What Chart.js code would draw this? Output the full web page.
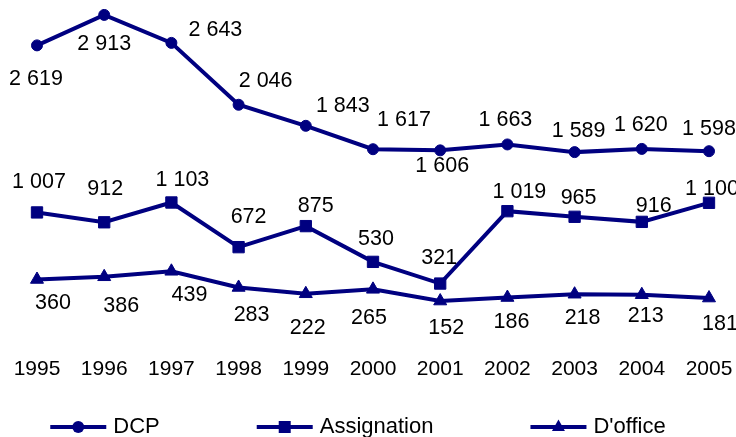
<!DOCTYPE html>
<html>
<head>
<meta charset="utf-8">
<script src="https://cdn.jsdelivr.net/npm/chart.js@4"></script>
<style>
  body { margin: 0; background: #fff; }
  #wrap { width: 736px; height: 437px; }
</style>
</head>
<body>
<div id="wrap"><canvas id="chart" width="736" height="437"></canvas></div>
<script>
// Data
const years = ['1995', '1996', '1997', '1998', '1999', '2000', '2001', '2002', '2003', '2004', '2005'];
const dcp = [2619, 2913, 2643, 2046, 1843, 1617, 1606, 1663, 1589, 1620, 1598];
const assignation = [1007, 912, 1103, 672, 875, 530, 321, 1019, 965, 916, 1100];
const dOffice = [360, 386, 439, 283, 222, 265, 152, 186, 218, 213, 181];

// Where each value label sits relative to its point (dx, dy in px)
const dcpLabelPos = [[-1, 34], [0, 29], [44, -13], [27, -24], [37, -20], [31, -29], [2, 16], [-2, -24], [4, -21], [-1, -24], [0, -22]];
const assignLabelPos = [[2, -30], [1, -33], [11, -22], [10, -30], [10, -20], [3, -23], [-1, -25], [12, -19], [4, -19], [12, -16], [3, -14]];
const officeLabelPos = [[16, 24], [17, 29], [18, 24], [13, 28], [2, 34], [-4, 29], [6, 27], [4, 25], [8, 24], [4, 21], [11, 26]];

const NAVY = '#000080';
const FONT = '"Liberation Sans", Arial, sans-serif';

// Format numbers with a space as thousands separator, like "2 619"
function fmt(v) {
    return String(v).replace(/\B(?=(\d{3})+(?!\d))/g, ' ');
}

// Value labels next to every point
const valueLabels = {
    id: 'valueLabels',
    afterDatasetsDraw(chart) {
        const ctx = chart.ctx;
        ctx.save();
        ctx.font = '21.5px ' + FONT;
        ctx.fillStyle = '#000';
        ctx.textAlign = 'center';
        ctx.textBaseline = 'middle';
        chart.data.datasets.forEach((ds, di) => {
            const meta = chart.getDatasetMeta(di);
            meta.data.forEach((pt, i) => {
                const off = ds.labelPos[i];
                ctx.fillText(fmt(ds.data[i]), pt.x + off[0], pt.y + off[1]);
            });
        });
        ctx.restore();
    }
};

// Draw one marker shape
function marker(ctx, style, x, y) {
    ctx.beginPath();
    if (style === 'circle') {
        ctx.arc(x, y, 6, 0, Math.PI * 2);
    } else if (style === 'rect') {
        ctx.rect(x - 6, y - 6, 12, 12);
    } else {
        ctx.moveTo(x, y - 7.5);
        ctx.lineTo(x + 6.5, y + 4);
        ctx.lineTo(x - 6.5, y + 4);
        ctx.closePath();
    }
    ctx.fill();
}

// Legend at the bottom: line + marker + text
const lineLegend = {
    id: 'lineLegend',
    afterDraw(chart) {
        const ctx = chart.ctx;
        const lineLen = 56, textGap = 7, itemGap = 97, y = 427;
        ctx.save();
        ctx.font = '22px ' + FONT;
        const items = chart.data.datasets.map(ds => ({
            ds, w: lineLen + textGap + ctx.measureText(ds.label).width
        }));
        const total = items.reduce((s, it) => s + it.w, 0) + itemGap * (items.length - 1);
        let x = 358 - total / 2;
        items.forEach(it => {
            ctx.strokeStyle = NAVY;
            ctx.fillStyle = NAVY;
            ctx.lineWidth = 4;
            ctx.beginPath();
            ctx.moveTo(x, y);
            ctx.lineTo(x + lineLen, y);
            ctx.stroke();
            marker(ctx, it.ds.pointStyle, x + lineLen / 2, y);
            ctx.fillStyle = '#000';
            ctx.textAlign = 'left';
            ctx.textBaseline = 'middle';
            ctx.fillText(it.ds.label, x + lineLen + textGap, y);
            x += it.w + itemGap;
        });
        ctx.restore();
    }
};

function series(label, data, style, radius, labelPos) {
    return {
        label: label,
        data: data,
        labelPos: labelPos,
        borderColor: NAVY,
        backgroundColor: NAVY,
        borderWidth: 4,
        pointStyle: style,
        pointRadius: radius,
        pointBorderWidth: 1,
        pointBackgroundColor: NAVY,
        pointBorderColor: NAVY,
        tension: 0
    };
}

const ctx = document.getElementById('chart').getContext('2d');
const chart = new Chart(ctx, {
    type: 'line',
    data: {
        labels: years,
        datasets: [
            series('DCP', dcp, 'circle', 5.5, dcpLabelPos),
            series('Assignation', assignation, 'rect', 8, assignLabelPos),
            series("D'office", dOffice, 'triangle', 7.5, officeLabelPos)
        ]
    },
    options: {
        responsive: false,
        animation: false,
        layout: { padding: { top: 2, left: 37, right: 27, bottom: 15 } },
        scales: {
            x: {
                grid: { display: false, drawTicks: false },
                border: { display: false },
                afterFit(scale) {
                    // keep the points at the layout padding edges
                    scale.paddingLeft = 0;
                    scale.paddingRight = 0;
                },
                ticks: {
                    color: '#000',
                    padding: 40,
                    maxRotation: 0,
                    autoSkip: false,
                    font: { family: FONT, size: 21 }
                }
            },
            y: { display: false, min: 0, max: 2970 }
        },
        plugins: {
            legend: { display: false },
            tooltip: { enabled: false }
        }
    },
    plugins: [valueLabels, lineLegend]
});
</script>
</body>
</html>
